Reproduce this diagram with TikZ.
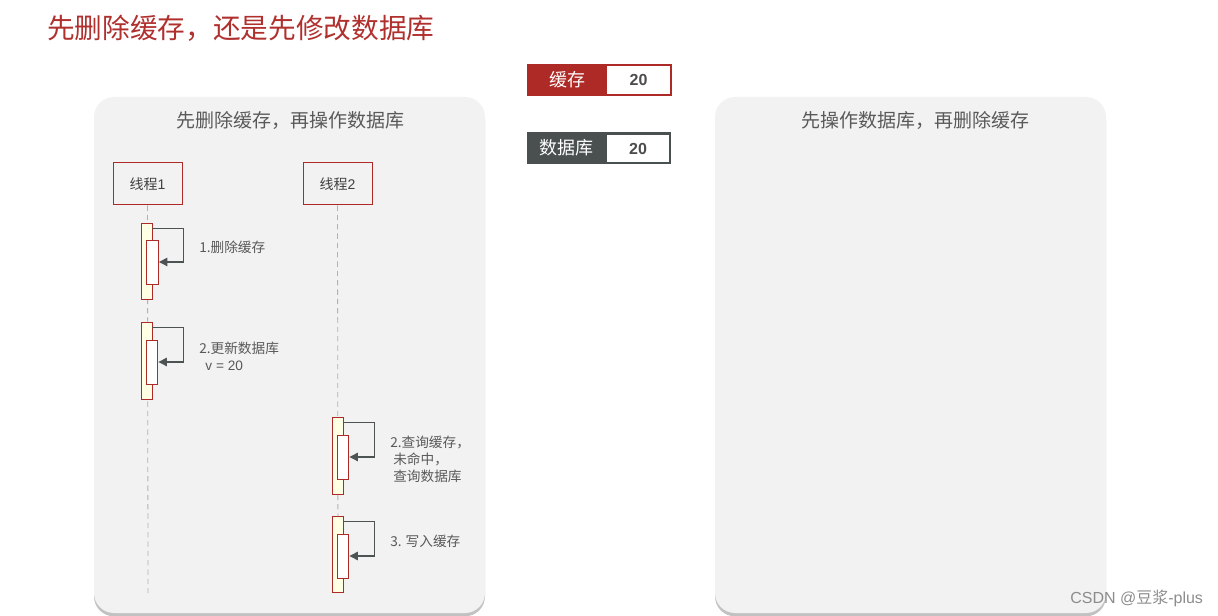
\documentclass[tikz,border=0pt]{standalone}
\usepackage{fontspec}
\setmainfont{Noto Sans CJK SC}
\newfontfamily\latinfont{Liberation Sans}
\usetikzlibrary{arrows.meta,shadows}
\definecolor{cred}{HTML}{AE2A26}
\definecolor{tred}{HTML}{B0302E}
\definecolor{cdark}{HTML}{4A5050}
\definecolor{panelbg}{HTML}{F2F2F2}
\definecolor{txtgray}{HTML}{595959}
\definecolor{barfill}{HTML}{FFFFE3}
\definecolor{arrowgray}{HTML}{4D5353}
\tikzset{
  panel/.style={fill=panelbg, draw=none, rounded corners=15pt, inner sep=0pt,
    minimum width=293.25pt, minimum height=387pt,
    drop shadow={shadow xshift=0pt, shadow yshift=-2.5pt, opacity=0.4, fill=black!60}},
  paneltitle/.style={font=\fontsize{14.25}{17}\selectfont, text=txtgray, inner sep=0pt},
  thread/.style={draw=cred, line width=0.75pt, minimum width=51.75pt, minimum height=31.5pt,
    inner sep=0pt, font=\fontsize{10.5}{12}\selectfont, text=black!75},
  lifeline/.style={draw=black!30, dashed, dash pattern=on 4pt off 3pt, line width=0.6pt},
  outerbar/.style={draw=cred, fill=barfill, line width=0.7pt, inner sep=0pt,
    minimum width=8.25pt, minimum height=57pt},
  innerbar/.style={draw=cred, fill=white, line width=0.7pt, inner sep=0pt,
    minimum width=8.5pt, minimum height=33pt},
  selfarrow/.style={draw=arrowgray, line width=1.4pt,
    -{Triangle[length=6.5pt,width=6pt]}},
  steplabel/.style={font=\fontsize{10.25}{13.5}\selectfont, text=txtgray, inner sep=0pt,
    anchor=west, align=left},
  valbox/.style={fill=white, inner sep=0pt, minimum width=47.25pt, minimum height=21pt,
    font=\latinfont\bfseries\fontsize{12}{14}\selectfont, text=black!70},
}
\begin{document}
\begin{tikzpicture}[x=0.75pt,y=-0.75pt]
\useasboundingbox (0,0) rectangle (1218,616);

% main title
\node[anchor=west, inner sep=0pt, text=tred, font=\fontsize{20.75}{24}\selectfont] (title) at (47,28) {先删除缓存，还是先修改数据库};

% panels
\node[panel] (pleft) at (289.5,355) {};
\node[panel] (pright) at (910.5,355) {};
\node[paneltitle] (tleft) at (290,120) {先删除缓存，再操作数据库};
\node[paneltitle] (tright) at (915,120) {先操作数据库，再删除缓存};

% cache / db boxes
\node[fill=cred, inner sep=0pt, minimum width=108.75pt, minimum height=24pt] (cache) at (599.5,80) {};
\node[valbox] (cacheval) at (638.5,80) {20};
\node[text=white, inner sep=0pt, font=\fontsize{13.5}{16}\selectfont] (cachelbl) at (567,80) {缓存};

\node[fill=cdark, inner sep=0pt, minimum width=108pt, minimum height=24pt] (db) at (599,148) {};
\node[valbox, minimum width=46.5pt, minimum height=20.25pt] (dbval) at (638,148.5) {20};
\node[text=white, inner sep=0pt, font=\fontsize{13.5}{16}\selectfont] (dblbl) at (566,148) {数据库};

% threads
\node[thread] (th1) at (147.5,184) {线程{\latinfont 1}};
\node[thread] (th2) at (337.5,184) {线程{\latinfont 2}};
\coordinate (end1) at (148,593);
\coordinate (end2) at (338,593);
\draw[lifeline] (th1.south) -- (end1);
\draw[lifeline] (th2.south) -- (end2);

% thread 1 activations
\node[outerbar] (o1a) at (146.5,261) {};
\node[innerbar] (i1a) at (152.5,262) {};
\draw[selfarrow] ([yshift=-4.5pt]o1a.north east) -- ++(31,0) |- (i1a.east);
\node[steplabel] (l1a) at (199,247) {1.删除缓存};

\node[outerbar, minimum height=57.75pt] (o1b) at (146.5,360.5) {};
\node[innerbar] (i1b) at (152,362) {};
\draw[selfarrow] ([yshift=-4.5pt]o1b.north east) -- ++(31,0) |- (i1b.east);
\node[steplabel] (l1b) at (199,356) {2.更新数据库\\[-1pt]\ \ {\latinfont v = 20}};

% thread 2 activations
\node[outerbar, minimum height=57.75pt] (o2a) at (337.5,455.5) {};
\node[innerbar] (i2a) at (343,457) {};
\draw[selfarrow] ([yshift=-4.5pt]o2a.north east) -- ++(31,0) |- (i2a.east);
\node[steplabel] (l2a) at (390,459.5) {2.查询缓存，\\[-1pt]\ 未命中，\\[-1pt]\ 查询数据库};

\node[outerbar] (o2b) at (337.5,554) {};
\node[innerbar] (i2b) at (343,556) {};
\draw[selfarrow] ([yshift=-4.5pt]o2b.north east) -- ++(31,0) |- (i2b.east);
\node[steplabel] (l2b) at (390,541) {3. 写入缓存};

% watermark
\node[anchor=west, inner sep=0pt, text=black!45, font=\latinfont\fontsize{12}{14}\selectfont] (wm) at (1070,598) {CSDN @{\fontspec{Noto Sans CJK SC}豆浆}-plus};
\end{tikzpicture}
\end{document}
